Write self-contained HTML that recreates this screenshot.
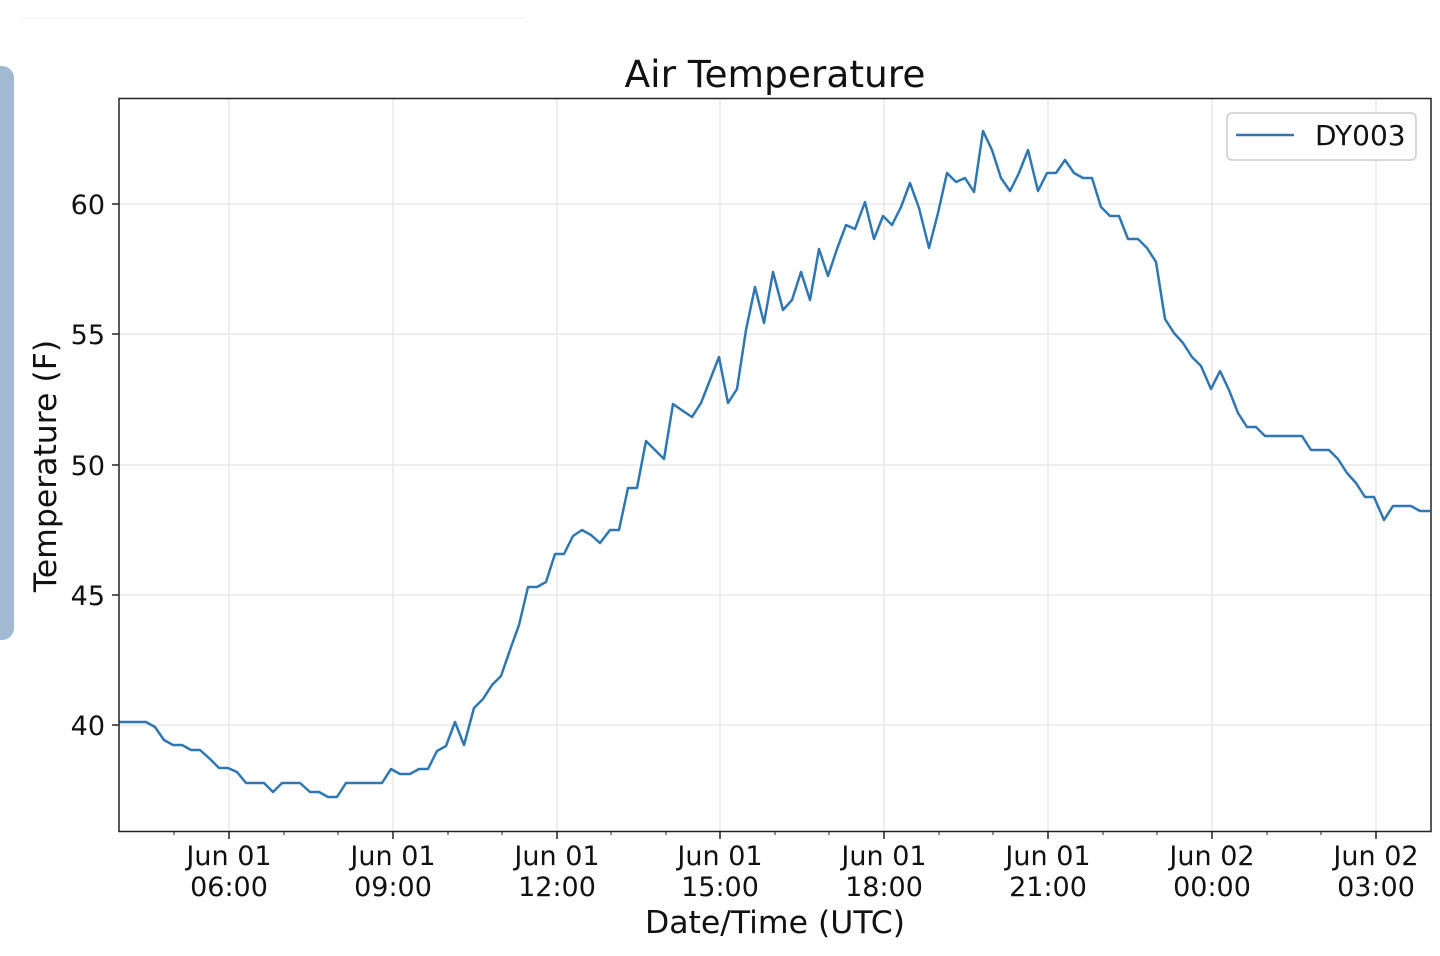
<!DOCTYPE html>
<html><head><meta charset="utf-8"><style>
html,body{margin:0;padding:0;background:#fff;}
svg{display:block;font-family:"DejaVu Sans","Liberation Sans",sans-serif;}
</style></head><body>
<svg width="1440" height="956" viewBox="0 0 1440 956" xmlns="http://www.w3.org/2000/svg">
<line x1="20" y1="18" x2="525" y2="18" stroke="#eee" stroke-width="1"/>
<rect x="-20" y="66" width="34" height="574" rx="12" fill="#a2b9d2"/>
<text x="775" y="87" font-size="37.5" text-anchor="middle" fill="#111">Air Temperature</text>
<g stroke="#e8e8e8" stroke-width="1.5">
<line x1="229" y1="98" x2="229" y2="831"/><line x1="393" y1="98" x2="393" y2="831"/>
<line x1="557" y1="98" x2="557" y2="831"/><line x1="720" y1="98" x2="720" y2="831"/>
<line x1="884" y1="98" x2="884" y2="831"/><line x1="1048" y1="98" x2="1048" y2="831"/>
<line x1="1212" y1="98" x2="1212" y2="831"/><line x1="1376" y1="98" x2="1376" y2="831"/>
<line x1="119" y1="204" x2="1431" y2="204"/><line x1="119" y1="334" x2="1431" y2="334"/>
<line x1="119" y1="465" x2="1431" y2="465"/><line x1="119" y1="595" x2="1431" y2="595"/>
<line x1="119" y1="725" x2="1431" y2="725"/>
</g>
<polyline fill="none" stroke="#2f77b1" stroke-width="2.5" stroke-linejoin="round" points="119,722 128,722 137,722 146,722 155,727 164,740 173,745 182,745 191,750 200,750 210,759 219,768 228,768 237,772 246,783 255,783 264,783 273,792 282,783 291,783 300,783 310,792 319,792 328,797 337,797 346,783 355,783 364,783 373,783 382,783 391,769 400,774 410,774 419,769 428,769 437,751 446,746 455,722 464,745 474,708 483,699 492,685 501,676 510,650 519,625 528,587 537,587 546,582 555,554 564,554 573,536 582,530 591,535 600,543 610,530 619,530 628,488 637,488 646,441 655,450 664,459 673,404 683,411 692,417 701,403 710,380 719,357 728,403 737,389 746,330 755,287 764,323 773,272 783,310 792,300 801,272 810,300 819,249 828,276 837,249 846,225 855,229 865,202 874,239 883,216 892,225 901,207 910,183 919,208 929,248 938,213 947,173 956,182 965,178 974,192 983,131 992,150 1001,178 1010,191 1019,173 1028,150 1038,191 1047,173 1056,173 1065,160 1074,173 1083,178 1092,178 1101,207 1110,216 1119,216 1128,239 1138,239 1147,248 1156,262 1165,319 1174,333 1183,343 1192,357 1201,366 1211,389 1220,371 1229,390 1238,413 1247,427 1256,427 1265,436 1274,436 1283,436 1293,436 1302,436 1311,450 1320,450 1329,450 1338,459 1347,473 1356,483 1365,497 1374,497 1384,520 1393,506 1402,506 1411,506 1420,511 1430,511"/>
<rect x="119" y="98.5" width="1312" height="733" fill="none" stroke="#222" stroke-width="1.5"/>
<g stroke="#222" stroke-width="1.5">
<line x1="112" y1="204" x2="119" y2="204"/><line x1="112" y1="334" x2="119" y2="334"/>
<line x1="112" y1="465" x2="119" y2="465"/><line x1="112" y1="595" x2="119" y2="595"/>
<line x1="112" y1="725" x2="119" y2="725"/>
<line x1="229" y1="831" x2="229" y2="839"/><line x1="393" y1="831" x2="393" y2="839"/>
<line x1="557" y1="831" x2="557" y2="839"/><line x1="720" y1="831" x2="720" y2="839"/>
<line x1="884" y1="831" x2="884" y2="839"/><line x1="1048" y1="831" x2="1048" y2="839"/>
<line x1="1212" y1="831" x2="1212" y2="839"/><line x1="1376" y1="831" x2="1376" y2="839"/>
</g>
<g stroke="#222" stroke-width="1">
<line x1="174" y1="831" x2="174" y2="835"/><line x1="284" y1="831" x2="284" y2="835"/><line x1="338" y1="831" x2="338" y2="835"/>
<line x1="448" y1="831" x2="448" y2="835"/><line x1="502" y1="831" x2="502" y2="835"/><line x1="611" y1="831" x2="611" y2="835"/>
<line x1="666" y1="831" x2="666" y2="835"/><line x1="775" y1="831" x2="775" y2="835"/><line x1="829" y1="831" x2="829" y2="835"/>
<line x1="939" y1="831" x2="939" y2="835"/><line x1="993" y1="831" x2="993" y2="835"/><line x1="1103" y1="831" x2="1103" y2="835"/>
<line x1="1157" y1="831" x2="1157" y2="835"/><line x1="1267" y1="831" x2="1267" y2="835"/><line x1="1321" y1="831" x2="1321" y2="835"/>
</g>
<g font-size="27" fill="#111" text-anchor="end">
<text x="105" y="214">60</text><text x="105" y="344">55</text><text x="105" y="475">50</text>
<text x="105" y="605">45</text><text x="105" y="735">40</text>
</g>
<g font-size="27" fill="#111" text-anchor="middle">
<text x="229" y="865">Jun 01</text><text x="229" y="896">06:00</text>
<text x="393" y="865">Jun 01</text><text x="393" y="896">09:00</text>
<text x="557" y="865">Jun 01</text><text x="557" y="896">12:00</text>
<text x="720" y="865">Jun 01</text><text x="720" y="896">15:00</text>
<text x="884" y="865">Jun 01</text><text x="884" y="896">18:00</text>
<text x="1048" y="865">Jun 01</text><text x="1048" y="896">21:00</text>
<text x="1212" y="865">Jun 02</text><text x="1212" y="896">00:00</text>
<text x="1376" y="865">Jun 02</text><text x="1376" y="896">03:00</text>
</g>
<text x="775" y="933" font-size="31.5" text-anchor="middle" fill="#111">Date/Time (UTC)</text>
<text transform="translate(56,466) rotate(-90)" font-size="31.5" text-anchor="middle" fill="#111">Temperature (F)</text>
<rect x="1227" y="113" width="189" height="47" rx="5" fill="#fff" stroke="#ccc" stroke-width="1.5"/>
<line x1="1236" y1="135" x2="1294" y2="135" stroke="#2f77b1" stroke-width="2.5"/>
<text x="1315" y="145" font-size="28" fill="#111">DY003</text>
</svg>
</body></html>
